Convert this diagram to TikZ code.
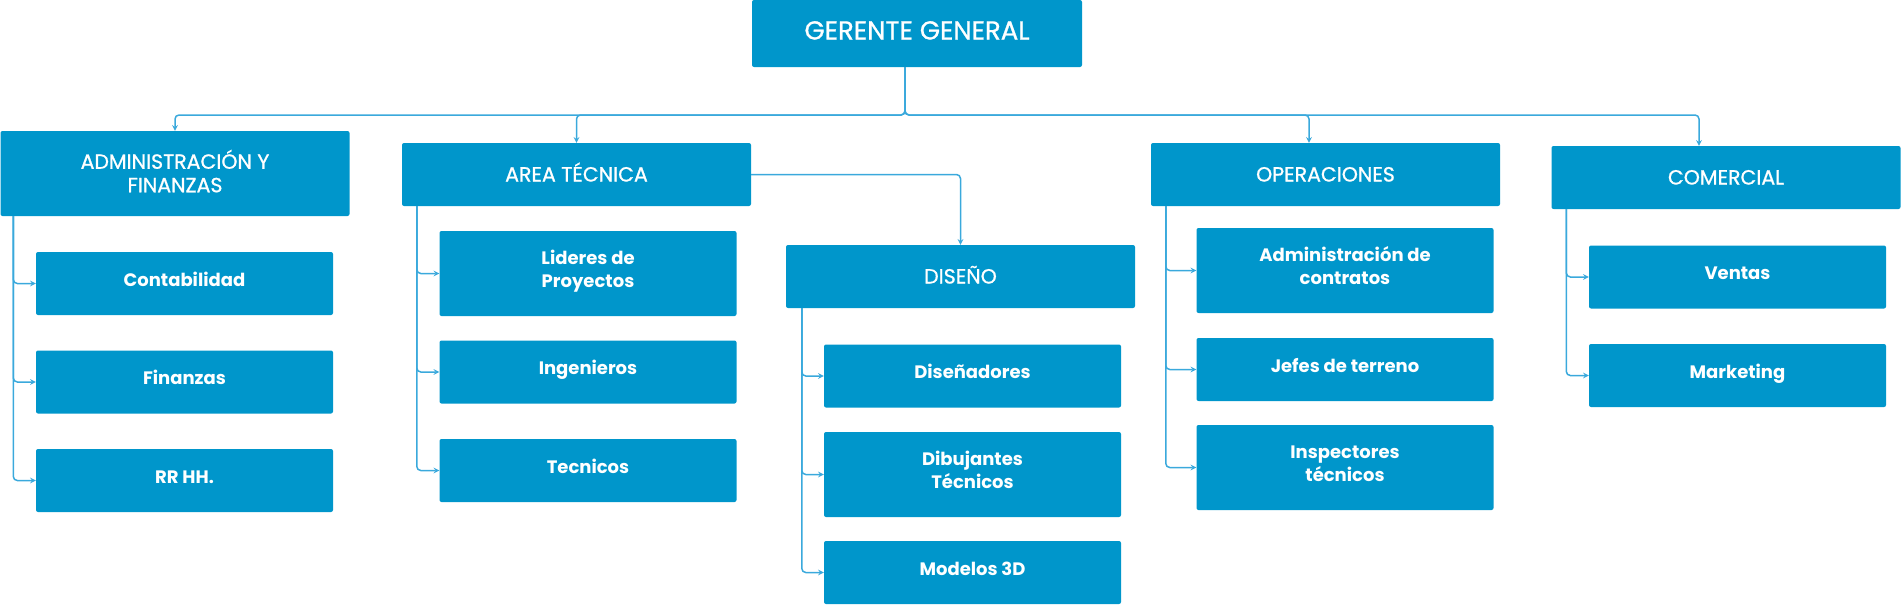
\documentclass[tikz,border=0pt]{standalone}
\usepackage{fontspec}
\setmainfont{Poppins}
\newfontfamily\medio{Poppins}[FakeBold=0.9]
\definecolor{azul}{HTML}{0096CB}
\definecolor{linea}{HTML}{3AA9DC}

\begin{document}
\begin{tikzpicture}[x=1pt, y=-1pt, every node/.style={align=center, text=white, font=\medio\fontsize{20.5}{23.5}\selectfont}, >=stealth]
    % estilos
    \tikzstyle{jefe} = [rectangle, rounded corners=2pt, fill=azul, inner sep=0pt]
    \tikzstyle{depto} = [jefe, minimum width=349pt, minimum height=63pt, text height=16pt, text depth=2pt]
    \tikzstyle{cargo} = [jefe, minimum width=297pt, minimum height=63pt, text height=13pt, text depth=8pt, font=\fontsize{18}{23}\selectfont\bfseries]
    \tikzstyle{doble} = [minimum height=85pt, text height=36pt]
    \tikzstyle{arrow} = [draw=linea, line width=1.5pt, rounded corners=4pt, ->]

    \useasboundingbox (0,0) rectangle (1902,605);

    % gerencia y areas
    \node[jefe, minimum width=330pt, minimum height=67pt, text height=20pt, text depth=8pt, font=\medio\fontsize{26}{30}\selectfont] (gerente) at (917,33.5) {GERENTE GENERAL};
    \node[depto, doble, text height=39.5pt] (admin) at (175,173.5) {ADMINISTRACIÓN Y\\FINANZAS};
    \node[depto] (area) at (576.5,174.5) {AREA TÉCNICA};
    \node[depto] (diseno) at (960.5,276.5) {DISEÑO};
    \node[depto] (oper) at (1325.5,174.5) {OPERACIONES};
    \node[depto] (comercial) at (1726,177.5) {COMERCIAL};

    % cargos
    \node[cargo] (conta) at (184.5,283.5) {Contabilidad};
    \node[cargo] (finan) at (184.5,382) {Finanzas};
    \node[cargo] (rrhh) at (184.5,480.5) {RR HH.};

    \node[cargo, doble] (lideres) at (588,273.5) {Lideres de\\Proyectos};
    \node[cargo] (ingen) at (588,372) {Ingenieros};
    \node[cargo] (tecn) at (588,470.5) {Tecnicos};

    \node[cargo] (disenad) at (972.5,376) {Diseñadores};
    \node[cargo, doble] (dibuj) at (972.5,474.5) {Dibujantes\\Técnicos};
    \node[cargo] (modelos) at (972.5,572.5) {Modelos 3D};

    \node[cargo, doble] (admcont) at (1345,270.5) {Administración de\\contratos};
    \node[cargo] (jefes) at (1345,369.5) {Jefes de terreno};
    \node[cargo, doble] (inspect) at (1345,467.5) {Inspectores\\técnicos};

    \node[cargo] (ventas) at (1737.5,277) {Ventas};
    \node[cargo] (market) at (1737.5,375.5) {Marketing};

    % conexiones
    \coordinate (bus) at (905,115);
    \draw[arrow] (gerente.south -| bus) -- (bus) -| (admin.north);
    \draw[arrow] (gerente.south -| bus) -- (bus) -| (area.north);
    \draw[arrow] (gerente.south -| bus) -- (bus) -| ([xshift=-16.5pt]oper.north);
    \draw[arrow] (gerente.south -| bus) -- (bus) -| ([xshift=-27pt]comercial.north);
    \draw[arrow] (area.east) -| (diseno.north);

    \foreach \h in {conta,finan,rrhh}
        \draw[arrow] ([xshift=13pt]admin.south west) |- (\h.west);
    \foreach \h in {lideres,ingen,tecn}
        \draw[arrow] ([xshift=15pt]area.south west) |- (\h.west);
    \foreach \h in {disenad,dibuj,modelos}
        \draw[arrow] ([xshift=16pt]diseno.south west) |- (\h.west);
    \foreach \h in {admcont,jefes,inspect}
        \draw[arrow] ([xshift=15pt]oper.south west) |- (\h.west);
    \foreach \h in {ventas,market}
        \draw[arrow] ([xshift=15pt]comercial.south west) |- (\h.west);
\end{tikzpicture}
\end{document}
